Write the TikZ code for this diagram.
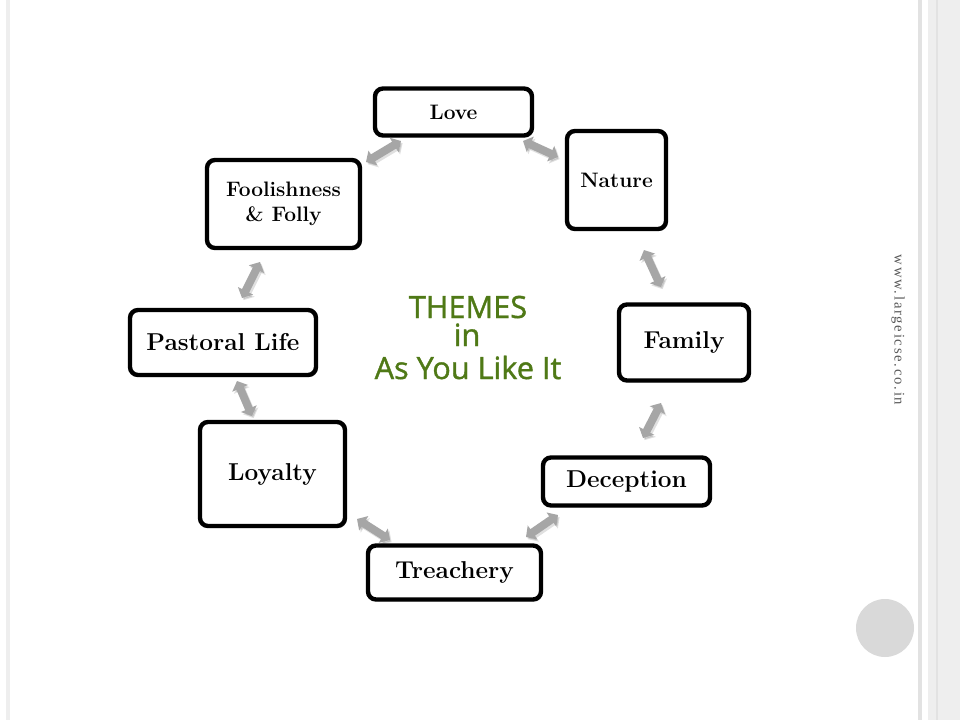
\documentclass[tikz,border=0pt]{standalone}
\usepackage{fontspec}
\newfontfamily\titlefont[FakeBold=1.2]{Open Sans}
\newfontfamily\webfont[LetterSpace=12]{Liberation Serif}
\usetikzlibrary{arrows.meta,shadows}
\definecolor{titlegreen}{RGB}{79,121,22}
\definecolor{arrowgray}{RGB}{166,166,166}
\definecolor{bandgray}{RGB}{238,238,238}
\definecolor{linegray}{RGB}{226,226,226}
\definecolor{dotgray}{RGB}{217,217,217}
\tikzset{
  themebox/.style={draw=black, line width=3.3pt, fill=white, rounded corners=6pt,
    inner sep=0pt, align=center, font=\bfseries,
    drop shadow={shadow xshift=1.2pt, shadow yshift=-1.5pt, opacity=0.25, fill=black!60}},
  bigtext/.style={font=\fontsize{18.3}{22}\selectfont\bfseries},
  smalltext/.style={font=\fontsize{15.7}{19.5}\selectfont\bfseries},
  biarrow/.style={draw=arrowgray, line width=6pt,
    {Triangle[width=12.5pt,length=6pt]}-{Triangle[width=12.5pt,length=6pt]}},
  biarrowshadow/.style={draw=black, opacity=0.12, line width=6pt,
    {Triangle[width=12.5pt,length=6pt]}-{Triangle[width=12.5pt,length=6pt]}},
  titletext/.style={text=titlegreen, font=\titlefont\fontsize{23}{23}\selectfont, anchor=base}
}
\begin{document}
\begin{tikzpicture}[x=0.75pt,y=-0.75pt]
\useasboundingbox (0,0) rectangle (960,720);
\fill[white] (0,0) rectangle (960,720);
% page decorations
\fill[bandgray] (6,0) rectangle (10,720);
\fill[linegray] (918,0) rectangle (922,720);
\fill[bandgray] (928,0) rectangle (960,720);
\fill[linegray] (936,0) rectangle (938,720);
\fill[dotgray] (885,628) circle (29);
\node[rotate=-90, text=black!65, font=\webfont\fontsize{11}{13}\selectfont] (web) at (898,330) {www.largeicse.co.in};

% boxes
\node[themebox, smalltext, minimum width=117.75pt, minimum height=35.25pt] (love) at (453.5,112) {Love};
\node[themebox, smalltext, minimum width=74.25pt, minimum height=73.5pt] (nature) at (616.5,180) {Nature};
\node[themebox, bigtext, minimum width=97.5pt, minimum height=57pt] (family) at (684,342.5) {Family};
\node[themebox, bigtext, minimum width=125.25pt, minimum height=36pt] (deception) at (626.5,481.5) {Deception};
\node[themebox, bigtext, minimum width=129.75pt, minimum height=40.5pt] (treachery) at (454.5,572.5) {Treachery};
\node[themebox, bigtext, minimum width=108.75pt, minimum height=78pt] (loyalty) at (272.5,474) {Loyalty};
\node[themebox, bigtext, minimum width=139.5pt, minimum height=48.75pt] (pastoral) at (223,342.5) {Pastoral Life};
\node[themebox, smalltext, minimum width=114.75pt, minimum height=66pt] (folly) at (283.5,204) {Foolishness\\[-1pt]\& Folly};

% arrow end points
\coordinate (a1) at (523,141); \coordinate (b1) at (558,157);
\coordinate (a2) at (644,250); \coordinate (b2) at (661,287);
\coordinate (a3) at (661,403); \coordinate (b3) at (643,438);
\coordinate (a4) at (558,515); \coordinate (b4) at (526,537);
\coordinate (a5) at (390,540); \coordinate (b5) at (357,519);
\coordinate (a6) at (252,416); \coordinate (b6) at (237,381);
\coordinate (a7) at (242,298); \coordinate (b7) at (260,262);
\coordinate (a8) at (366,162); \coordinate (b8) at (401,141);

\foreach \i in {1,...,8}{
  \draw[biarrowshadow, transform canvas={shift={(1.2pt,-1.6pt)}}] (a\i) -- (b\i);
}
\foreach \i in {1,...,8}{
  \draw[biarrow] (a\i) -- (b\i);
}

% title
\node[titletext] (t1) at (468,318) {THEMES};
\node[titletext] (t2) at (467,346) {in};
\node[titletext] (t3) at (468,379) {As You Like It};
\end{tikzpicture}
\end{document}
